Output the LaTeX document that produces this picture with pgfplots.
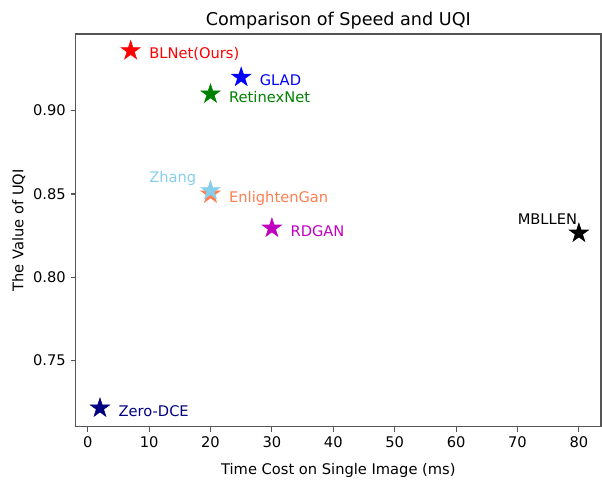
\documentclass[border=0pt]{standalone}
\usepackage{fontspec}
\setmainfont{DejaVu Sans}
\usepackage{pgfplots}
\pgfplotsset{compat=1.18}
\definecolor{skyblue}{HTML}{87CEEB}
\definecolor{coral}{HTML}{FF7F50}
\definecolor{mmag}{HTML}{BF00BF}
\definecolor{navy}{HTML}{000080}
\definecolor{mgreen}{HTML}{008000}
\definecolor{spine}{HTML}{555555}
\pgfdeclareplotmark{fstar}{%
  \pgfpathmoveto{\pgfpointpolar{90}{\pgfplotmarksize}}%
  \pgfpathlineto{\pgfpointpolar{126}{0.382*\pgfplotmarksize}}%
  \pgfpathlineto{\pgfpointpolar{162}{\pgfplotmarksize}}%
  \pgfpathlineto{\pgfpointpolar{198}{0.382*\pgfplotmarksize}}%
  \pgfpathlineto{\pgfpointpolar{234}{\pgfplotmarksize}}%
  \pgfpathlineto{\pgfpointpolar{270}{0.382*\pgfplotmarksize}}%
  \pgfpathlineto{\pgfpointpolar{306}{\pgfplotmarksize}}%
  \pgfpathlineto{\pgfpointpolar{342}{0.382*\pgfplotmarksize}}%
  \pgfpathlineto{\pgfpointpolar{18}{\pgfplotmarksize}}%
  \pgfpathlineto{\pgfpointpolar{54}{0.382*\pgfplotmarksize}}%
  \pgfpathclose
  \pgfusepathqfillstroke
}
\begin{document}
\begin{tikzpicture}
\begin{axis}[
  scale only axis,
  width=394pt, height=294.5pt,
  xmin=-1.95, xmax=83.6, ymin=0.7104, ymax=0.946,
  xtick={0,10,20,30,40,50,60,70,80},
  ytick={0.75,0.80,0.85,0.90},
  scaled y ticks=false,
  yticklabel style={/pgf/number format/.cd, fixed, fixed zerofill, precision=2},
  /pgf/number format/assume math mode=true,
  tick label style={font=\fontsize{11}{13}\selectfont},
  tick align=outside, tick pos=left, major tick length=3.9pt,
  axis line style={spine, line width=0.8pt},
  every tick/.style={spine, line width=0.8pt},
  title={Comparison of Speed and UQI},
  title style={font=\fontsize{13.2}{15}\selectfont, yshift=-6pt},
  xlabel={Time Cost on Single Image (ms)},
  ylabel={The Value of UQI},
  xlabel shift=5pt,
  ylabel shift=-1pt,
  label style={font=\fontsize{11}{13}\selectfont},
  clip=false,
]
\addplot[only marks, mark=fstar, mark size=7.6pt, color=red] coordinates {(7,0.936)};
\addplot[only marks, mark=fstar, mark size=7.6pt, color=blue] coordinates {(25,0.920)};
\addplot[only marks, mark=fstar, mark size=7.6pt, color=mgreen] coordinates {(20,0.910)};
\addplot[only marks, mark=fstar, mark size=7.6pt, color=coral] coordinates {(20,0.850)};
\addplot[only marks, mark=fstar, mark size=7.6pt, color=skyblue] coordinates {(20,0.852)};
\addplot[only marks, mark=fstar, mark size=7.6pt, color=mmag] coordinates {(30,0.8295)};
\addplot[only marks, mark=fstar, mark size=7.6pt, color=black] coordinates {(80,0.8265)};
\addplot[only marks, mark=fstar, mark size=7.6pt, color=navy] coordinates {(2,0.7215)};
\begin{scope}[every node/.style={anchor=base west, inner sep=0pt, font=\fontsize{11}{13}\selectfont}]
\node[text=red] at (axis cs:10,0.931) {BLNet(Ours)};
\node[text=blue] at (axis cs:28,0.915) {GLAD};
\node[text=mgreen] at (axis cs:23,0.905) {RetinexNet};
\node[text=skyblue] at (axis cs:10,0.857) {Zhang};
\node[text=coral] at (axis cs:23,0.845) {EnlightenGan};
\node[text=mmag] at (axis cs:33,0.8245) {RDGAN};
\node[text=black] at (axis cs:70,0.8315) {MBLLEN};
\node[text=navy] at (axis cs:5,0.7165) {Zero-DCE};
\end{scope}
\end{axis}
\path (current axis.south west) ++(-56.8pt,-34pt);
\path (current axis.north east) ++(0.75pt,25.5pt);
\end{tikzpicture}
\end{document}
